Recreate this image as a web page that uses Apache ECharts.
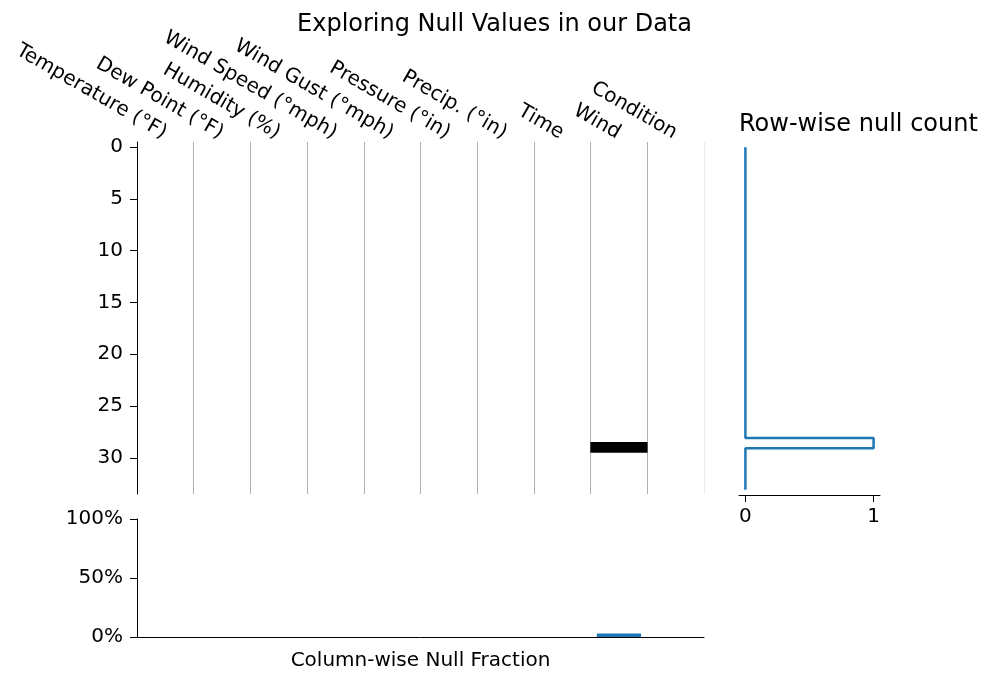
<!DOCTYPE html>
<html>
<head>
<meta charset="utf-8">
<script src="https://cdn.jsdelivr.net/npm/echarts@6/dist/echarts.min.js"></script>
<style>html,body{margin:0;padding:0;background:#fff;}#c{width:989px;height:681px;}</style>
</head>
<body>
<div id="c"></div>
<script>
const columns = ['Temperature (°F)','Dew Point (°F)','Humidity (%)','Wind Speed (°mph)','Wind Gust (°mph)','Pressure (°in)','Precip. (°in)','Time','Wind','Condition'];
const rowLabels = ['0','1','2','3','4','5','6','7','8','9','10','11','12','13','14','15','16','17','18','19','20','21','22','23','24','25','26','27','28','29','30','31','32','33'];
// null cells: [columnIndex, rowIndex, isNull]
const nullCells = [[8, 29, 1]];
const columnNullFraction = [0, 0, 0, 0, 0, 0, 0, 0, 0.0294, 0];
const rowNullCount = [0,0,0,0,0,0,0,0,0,0,0,0,0,0,0,0,0,0,0,0,0,0,0,0,0,0,0,0,0,1,0,0,0,0];
const countTicks = [0, 1];

const font = 'DejaVu Sans';
const splitColors = ['#b0b0b0','#b0b0b0','#b0b0b0','#b0b0b0','#b0b0b0','#b0b0b0','#b0b0b0','#b0b0b0','#b0b0b0','#b0b0b0','#ececec'];
const chart = echarts.init(document.getElementById('c'), null, {renderer: 'canvas'});
chart.setOption({
  backgroundColor: '#fff',
  animation: false,
  textStyle: {fontFamily: font, color: '#000'},
  title: [
    {text: 'Exploring Null Values in our Data', left: 'center', top: 8,
     textStyle: {fontFamily: font, fontSize: 24, fontWeight: 'normal', color: '#000'}},
    {text: 'Row-wise null count', left: 734, top: 108,
     textStyle: {fontFamily: font, fontSize: 24, fontWeight: 'normal', color: '#000'}}
  ],
  grid: [
    {left: 137, top: 142, width: 567, height: 352},
    {left: 137, top: 519, width: 567, height: 118},
    {left: 739, top: 142, width: 141, height: 353}
  ],
  xAxis: [
    {type: 'category', gridIndex: 0, data: columns, position: 'top',
     axisLine: {show: false}, axisTick: {show: false},
     axisLabel: {interval: 0, rotate: 30, align: 'right', verticalAlign: 'bottom', padding: [0, 6, 0, 0],
                 fontSize: 20, color: '#000', margin: -4, fontFamily: font},
     splitLine: {show: true, interval: 0, lineStyle: {color: splitColors, width: 1}}},
    {type: 'category', gridIndex: 1, data: columns,
     axisLine: {show: true, lineStyle: {color: '#000', width: 1}}, axisTick: {show: false},
     axisLabel: {show: false}, splitLine: {show: false},
     name: 'Column-wise Null Fraction', nameLocation: 'middle', nameGap: 14,
     nameTextStyle: {fontSize: 20, color: '#000', fontFamily: font}},
    {type: 'value', gridIndex: 2, min: -0.05, max: 1.05,
     axisLine: {show: true, lineStyle: {color: '#000', width: 1}},
     axisTick: {show: true, length: 7, customValues: countTicks, lineStyle: {color: '#000'}},
     axisLabel: {customValues: countTicks, fontSize: 20, color: '#000', margin: 12, fontFamily: font},
     splitLine: {show: false}}
  ],
  yAxis: [
    {type: 'category', gridIndex: 0, data: rowLabels, inverse: true,
     axisLine: {show: true, lineStyle: {color: '#000', width: 1}},
     axisTick: {show: true, alignWithLabel: true, length: 7, interval: (i) => i % 5 === 0, lineStyle: {color: '#000'}},
     axisLabel: {interval: (i) => i % 5 === 0, fontSize: 20, color: '#000', margin: 14, fontFamily: font},
     splitLine: {show: false}},
    {type: 'value', gridIndex: 1, min: 0, max: 1, interval: 0.5,
     axisLine: {show: true, lineStyle: {color: '#000', width: 1}},
     axisTick: {show: true, length: 7, lineStyle: {color: '#000'}},
     axisLabel: {formatter: (v) => Math.round(v * 100) + '%', fontSize: 20, color: '#000', margin: 14, fontFamily: font},
     splitLine: {show: false}},
    {type: 'category', gridIndex: 2, data: rowLabels, inverse: true, show: false}
  ],
  series: [
    {type: 'heatmap', xAxisIndex: 0, yAxisIndex: 0, data: nullCells,
     itemStyle: {color: '#000'}, emphasis: {disabled: true}},
    {type: 'bar', xAxisIndex: 1, yAxisIndex: 1, data: columnNullFraction,
     barWidth: '78%', itemStyle: {color: '#1f77b4'}},
    {type: 'line', xAxisIndex: 2, yAxisIndex: 2, step: 'start', symbol: 'none',
     data: rowNullCount.map((c, i) => [c, rowLabels[i]]),
     lineStyle: {color: '#1f77b4', width: 2.5}}
  ]
});
</script>
</body>
</html>
